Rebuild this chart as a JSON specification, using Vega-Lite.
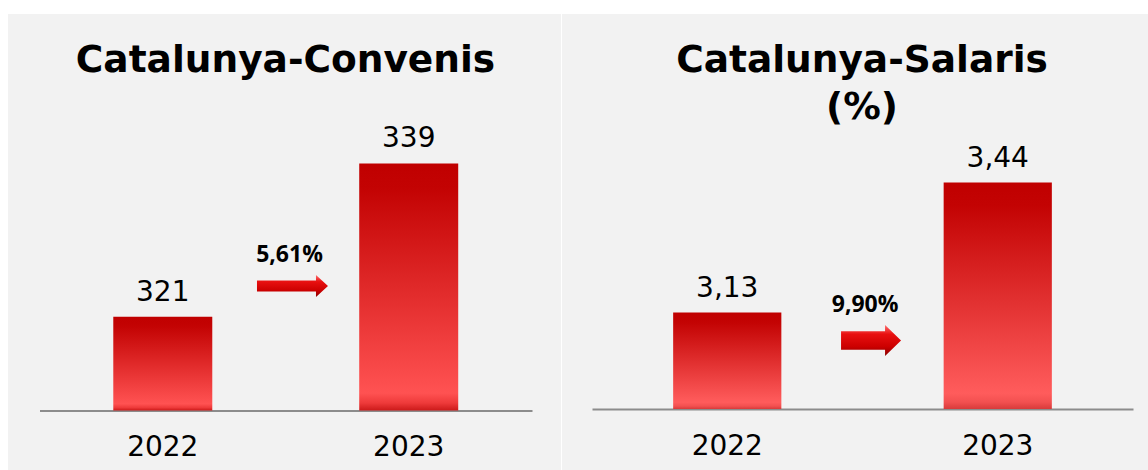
{
  "$schema": "https://vega.github.io/schema/vega-lite/v6.json",
  "background": "white",
  "padding": {"left": 8, "top": 14, "right": 0, "bottom": 0},
  "spacing": 1,
  "datasets": {
    "convenis": [{"year": "2022", "value": 321}, {"year": "2023", "value": 339}, {"year": "var", "change": 0.0561}],
    "salaris": [{"year": "2022", "value": 3.13}, {"year": "2023", "value": 3.44}, {"year": "var", "change": 0.099}]
  },
  "hconcat": [
    {
      "width": 553,
      "height": 456,
      "title": {"text": "Catalunya-Convenis", "font": "DejaVu Sans", "fontSize": 37.5, "fontWeight": "bold", "color": "black", "anchor": "middle", "frame": "group", "offset": -65.2, "dx": 1},
      "data": {"name": "convenis"},
      "layer": [
        {
          "transform": [{"filter": "datum.year != 'var'"}],
          "mark": {"type": "bar", "clip": false, "color": {"gradient": "linear", "x1": 0, "y1": 0, "x2": 0, "y2": 1, "stops": [{"offset": 0, "color": "#c00000"}, {"offset": 0.1, "color": "#c30303"}, {"offset": 0.93, "color": "#ff5252"}, {"offset": 0.97, "color": "#ee3a3a"}, {"offset": 1, "color": "#cc1a1a"}]}},
          "encoding": {
            "x": {"field": "year", "type": "nominal", "sort": null,
              "scale": {"domain": ["2022", "var", "2023"], "range": [31.5, 524], "paddingInner": 0.195, "paddingOuter": 0.6},
              "axis": {"title": null, "labelAngle": 0, "ticks": false, "tickSize": 0, "domainColor": "#8c8c8c", "domainWidth": 2, "labelFont": "DejaVu Sans", "labelFontSize": 28, "labelColor": "black", "labelPadding": 23, "offset": -59.5, "grid": false, "labelExpr": "datum.value == 'var' ? '' : datum.value"}},
            "y": {"field": "value", "type": "quantitative", "scale": {"domain": [303, 356.55], "zero": false, "nice": false}, "axis": null},
            "y2": {"datum": 310}
          }
        },
        {
          "transform": [{"filter": "datum.year != 'var'"}],
          "mark": {"type": "text", "font": "DejaVu Sans", "fontSize": 28, "color": "black", "baseline": "alphabetic", "dy": -16},
          "encoding": {
            "x": {"field": "year", "type": "nominal", "sort": null},
            "y": {"field": "value", "type": "quantitative"},
            "text": {"field": "value", "type": "quantitative", "format": "d"}
          }
        },
        {
          "transform": [{"filter": "datum.year == 'var'"}],
          "mark": {"type": "point", "filled": true, "opacity": 1, "size": 5041, "strokeWidth": 0,
            "shape": "M-1,-0.155 L0.662,-0.155 L0.662,-0.31 L1,0 L0.662,0.31 L0.662,0.155 L-1,0.155 Z",
            "color": {"gradient": "linear", "x1": 0, "y1": 0, "x2": 0, "y2": 1, "stops": [{"offset": 0, "color": "#ff7070"}, {"offset": 0.3, "color": "#e81010"}, {"offset": 0.7, "color": "#cc0000"}, {"offset": 1, "color": "#8a0000"}]}},
          "encoding": {
            "x": {"field": "year", "type": "nominal", "sort": null, "bandPosition": 0.568},
            "y": {"datum": 324.6, "type": "quantitative"}
          }
        },
        {
          "transform": [{"filter": "datum.year == 'var'"}],
          "mark": {"type": "text", "font": "Open Sans", "fontSize": 23, "fontWeight": "bold", "color": "black", "baseline": "middle"},
          "encoding": {
            "x": {"field": "year", "type": "nominal", "sort": null, "bandPosition": 0.538},
            "y": {"datum": 328.2, "type": "quantitative"},
            "text": {"field": "change", "type": "quantitative", "format": ".2%"}
          }
        }
      ]
    },
    {
      "width": 586,
      "height": 456,
      "title": {"text": ["Catalunya-Salaris", "(%)"], "font": "DejaVu Sans", "fontSize": 37.5, "fontWeight": "bold", "color": "black", "anchor": "middle", "frame": "group", "lineHeight": 47, "offset": -112.2, "dx": 7},
      "data": {"name": "salaris"},
      "layer": [
        {
          "transform": [{"filter": "datum.year != 'var'"}],
          "mark": {"type": "bar", "clip": false, "color": {"gradient": "linear", "x1": 0, "y1": 0, "x2": 0, "y2": 1, "stops": [{"offset": 0, "color": "#c00000"}, {"offset": 0.1, "color": "#c30303"}, {"offset": 0.93, "color": "#ff5c5c"}, {"offset": 0.97, "color": "#f25050"}, {"offset": 1, "color": "#d83a3a"}]}},
          "encoding": {
            "x": {"field": "year", "type": "nominal", "sort": null,
              "scale": {"domain": ["2022", "var", "2023"], "range": [30, 571], "paddingInner": 0.2, "paddingOuter": 0.6},
              "axis": {"title": null, "labelAngle": 0, "ticks": false, "tickSize": 0, "domainColor": "#8c8c8c", "domainWidth": 2, "labelFont": "DejaVu Sans", "labelFontSize": 28, "labelColor": "black", "labelPadding": 23, "offset": -61, "grid": false, "labelExpr": "datum.value == 'var' ? '' : datum.value"}},
            "y": {"field": "value", "type": "quantitative", "scale": {"domain": [2.7545, 3.842], "zero": false, "nice": false}, "axis": null},
            "y2": {"datum": 2.9}
          }
        },
        {
          "transform": [{"filter": "datum.year != 'var'"}],
          "mark": {"type": "text", "font": "DejaVu Sans", "fontSize": 28, "color": "black", "baseline": "alphabetic", "dy": -16},
          "encoding": {
            "x": {"field": "year", "type": "nominal", "sort": null},
            "y": {"field": "value", "type": "quantitative"},
            "text": {"field": "value", "type": "quantitative", "format": ".2f"}
          }
        },
        {
          "transform": [{"filter": "datum.year == 'var'"}],
          "mark": {"type": "point", "filled": true, "opacity": 1, "size": 3600, "strokeWidth": 0,
            "shape": "M-1,-0.31 L0.467,-0.31 L0.467,-0.517 L1,0 L0.467,0.517 L0.467,0.31 L-1,0.31 Z",
            "color": {"gradient": "linear", "x1": 0, "y1": 0, "x2": 0, "y2": 1, "stops": [{"offset": 0, "color": "#ff7070"}, {"offset": 0.3, "color": "#e81010"}, {"offset": 0.7, "color": "#cc0000"}, {"offset": 1, "color": "#8a0000"}]}},
          "encoding": {
            "x": {"field": "year", "type": "nominal", "sort": null, "bandPosition": 0.579},
            "y": {"datum": 3.0634, "type": "quantitative"}
          }
        },
        {
          "transform": [{"filter": "datum.year == 'var'"}],
          "mark": {"type": "text", "font": "Open Sans", "fontSize": 23, "fontWeight": "bold", "color": "black", "baseline": "middle"},
          "encoding": {
            "x": {"field": "year", "type": "nominal", "sort": null, "bandPosition": 0.524},
            "y": {"datum": 3.149, "type": "quantitative"},
            "text": {"field": "change", "type": "quantitative", "format": ".2%"}
          }
        }
      ]
    }
  ],
  "config": {
    "view": {"fill": "#f2f2f2", "stroke": null},
    "locale": {"number": {"decimal": ",", "thousands": ".", "grouping": [3], "currency": ["", " €"]}}
  }
}
